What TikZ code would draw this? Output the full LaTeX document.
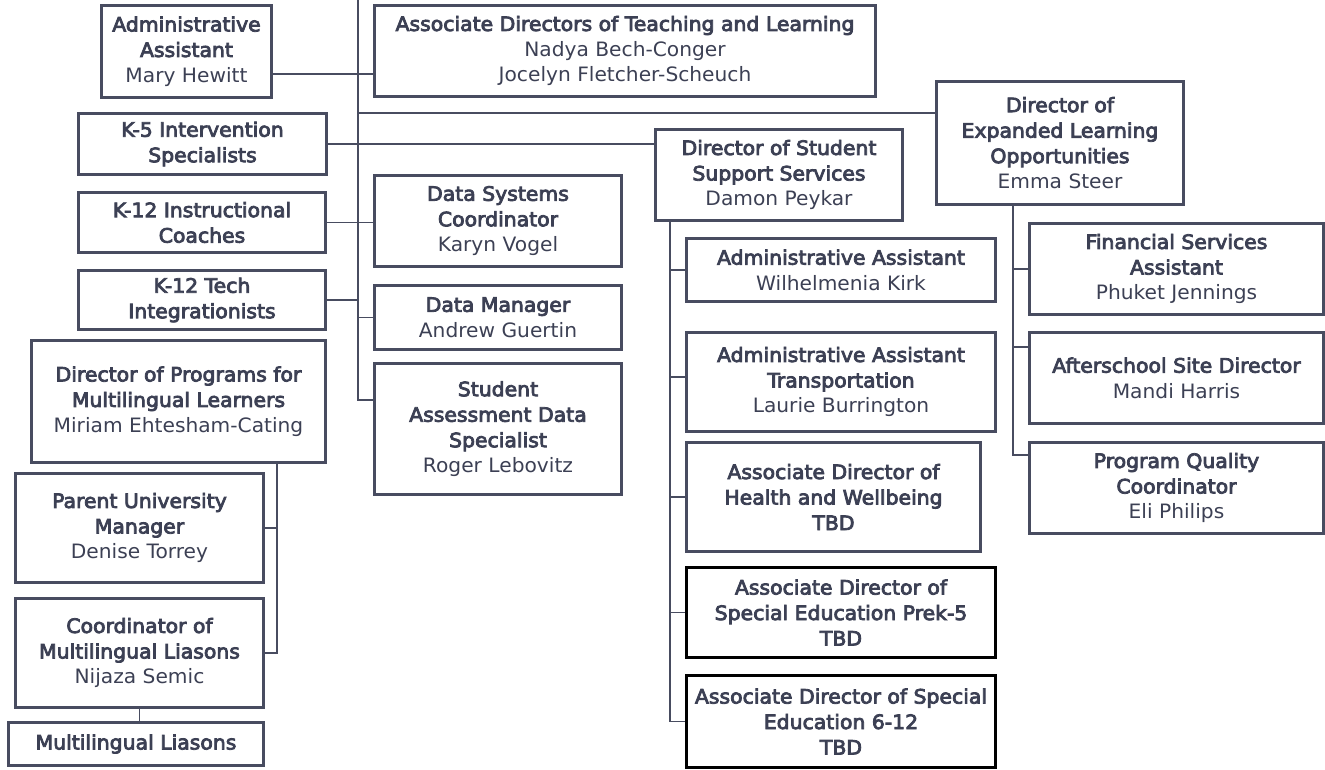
\documentclass[tikz,border=0pt]{standalone}
\usepackage{fontspec}
\setmainfont{DejaVu Sans}
\newfontfamily\tfam[FakeBold=4,FakeStretch=1.03]{DejaVu Sans}
\newfontfamily\nfam[FakeStretch=1.02]{DejaVu Sans}
\newcommand\T[1]{{\tfam #1}}
\newcommand\N[1]{{\nfam #1}}
\definecolor{ink}{RGB}{60,64,84}
\definecolor{edge}{RGB}{72,76,96}
\tikzset{
  box/.style={draw=edge, line width=3.2pt, fill=white, align=center, text=ink,
    inner sep=2pt, font=\fontsize{19.8}{25.5}\selectfont},
  darkbox/.style={box, draw=black},
  link/.style={draw=edge, line width=1.5pt},
}
\begin{document}
\begin{tikzpicture}[x=1pt,y=-1pt]
\useasboundingbox (0,0) rectangle (1325,770);
% boxes
\node[box, minimum width=170pt, minimum height=92pt] (adm) at (186.5,51.5) {\T{Administrative}\\\T{Assistant}\\\N{Mary Hewitt}};
\node[box, minimum width=501pt, minimum height=91pt] (adtl) at (625,51) {\T{Associate Directors of Teaching and Learning}\\\N{Nadya Bech-Conger}\\\N{Jocelyn Fletcher-Scheuch}};
\node[box, minimum width=248pt, minimum height=61pt] (k5) at (202.5,144) {\T{K-5 Intervention}\\\T{Specialists}};
\node[box, minimum width=247pt, minimum height=60pt] (k12ic) at (202,222.5) {\T{K-12 Instructional}\\\T{Coaches}};
\node[box, minimum width=247pt, minimum height=59pt] (k12ti) at (202,300) {\T{K-12 Tech}\\\T{Integrationists}};
\node[box, minimum width=294pt, minimum height=122pt] (dpml) at (178.5,401.5) {\T{Director of Programs for}\\\T{Multilingual Learners}\\\N{Miriam Ehtesham-Cating}};
\node[box, minimum width=248pt, minimum height=109pt] (pum) at (139.5,528) {\T{Parent University}\\\T{Manager}\\\N{Denise Torrey}};
\node[box, minimum width=248pt, minimum height=109pt] (cml) at (139.5,653) {\T{Coordinator of}\\\T{Multilingual Liasons}\\\N{Nijaza Semic}};
\node[box, minimum width=255pt, minimum height=43pt] (ml) at (136,744) {\T{Multilingual Liasons}};
\node[box, minimum width=247pt, minimum height=91pt] (dsc) at (498,221) {\T{Data Systems}\\\T{Coordinator}\\\N{Karyn Vogel}};
\node[box, minimum width=247pt, minimum height=64pt] (dm) at (498,317.5) {\T{Data Manager}\\\N{Andrew Guertin}};
\node[box, minimum width=247pt, minimum height=131pt] (sads) at (498,429) {\T{Student}\\\T{Assessment Data}\\\T{Specialist}\\\N{Roger Lebovitz}};
\node[box, minimum width=247pt, minimum height=91pt] (dsss) at (779,175) {\T{Director of Student}\\\T{Support Services}\\\N{Damon Peykar}};
\node[box, minimum width=309pt, minimum height=63pt] (aak) at (841,270) {\T{Administrative Assistant}\\\N{Wilhelmenia Kirk}};
\node[box, minimum width=309pt, minimum height=99pt] (aat) at (841,382) {\T{Administrative Assistant}\\\T{Transportation}\\\N{Laurie Burrington}};
\node[box, minimum width=294pt, minimum height=109pt] (adhw) at (833.5,497) {\T{Associate Director of}\\\T{Health and Wellbeing}\\\T{TBD}};
\node[darkbox, minimum width=309pt, minimum height=90pt] (adse5) at (841,612.5) {\T{Associate Director of}\\\T{Special Education Prek-5}\\\T{TBD}};
\node[darkbox, minimum width=309pt, minimum height=92pt] (adse12) at (841,721.5) {\T{Associate Director of Special}\\\T{Education 6-12}\\\T{TBD}};
\node[box, minimum width=247pt, minimum height=123pt] (del) at (1060,143) {\T{Director of}\\\T{Expanded Learning}\\\T{Opportunities}\\\N{Emma Steer}};
\node[box, minimum width=294pt, minimum height=91pt] (fsa) at (1176.5,269) {\T{Financial Services}\\\T{Assistant}\\\N{Phuket Jennings}};
\node[box, minimum width=294pt, minimum height=91pt] (asd) at (1176.5,378) {\T{Afterschool Site Director}\\\N{Mandi Harris}};
\node[box, minimum width=294pt, minimum height=91pt] (pqc) at (1176.5,488) {\T{Program Quality}\\\T{Coordinator}\\\N{Eli Philips}};
% coordinates
\coordinate (ttop) at (358,0);
\coordinate (tbot) at (358,400);
\coordinate (delin) at ([yshift=30pt]del.west);
\coordinate (mlv) at ([xshift=98.5pt]dpml.south);
\coordinate (sv) at ([xshift=-109pt]dsss.south);
\coordinate (ev) at ([xshift=-47pt]del.south);
% connectors
\draw[link] (ttop) -- (tbot) -- (tbot -| sads.west);
\draw[link] ([yshift=-22.5pt]adm.east) -- ([yshift=-23pt]adtl.west);
\draw[link] (ttop |- delin) -- (delin);
\draw[link] (k5.east) -- (k5.east -| dsss.west);
\draw[link] (k12ic.east) -- (k12ic.east -| dsc.west);
\draw[link] (k12ti.east) -- (k12ti.east -| ttop);
\draw[link] (dm.west) -- (dm.west -| ttop);
\draw[link] (mlv) |- (cml.east);
\draw[link] (pum.east) -- (pum.east -| mlv);
\draw[link] (cml.south) -- (cml.south |- ml.north);
\draw[link] (sv) |- (adse12.west);
\draw[link] (aak.west) -- (aak.west -| sv);
\draw[link] ([yshift=5pt]aat.west) -- ([yshift=5pt]aat.west -| sv);
\draw[link] (adhw.west) -- (adhw.west -| sv);
\draw[link] (adse5.west) -- (adse5.west -| sv);
\draw[link] (ev) |- ([yshift=33pt]pqc.west);
\draw[link] (fsa.west) -- (fsa.west -| ev);
\draw[link] ([yshift=31pt]asd.west) -- ([yshift=31pt]asd.west -| ev);
\end{tikzpicture}
\end{document}
